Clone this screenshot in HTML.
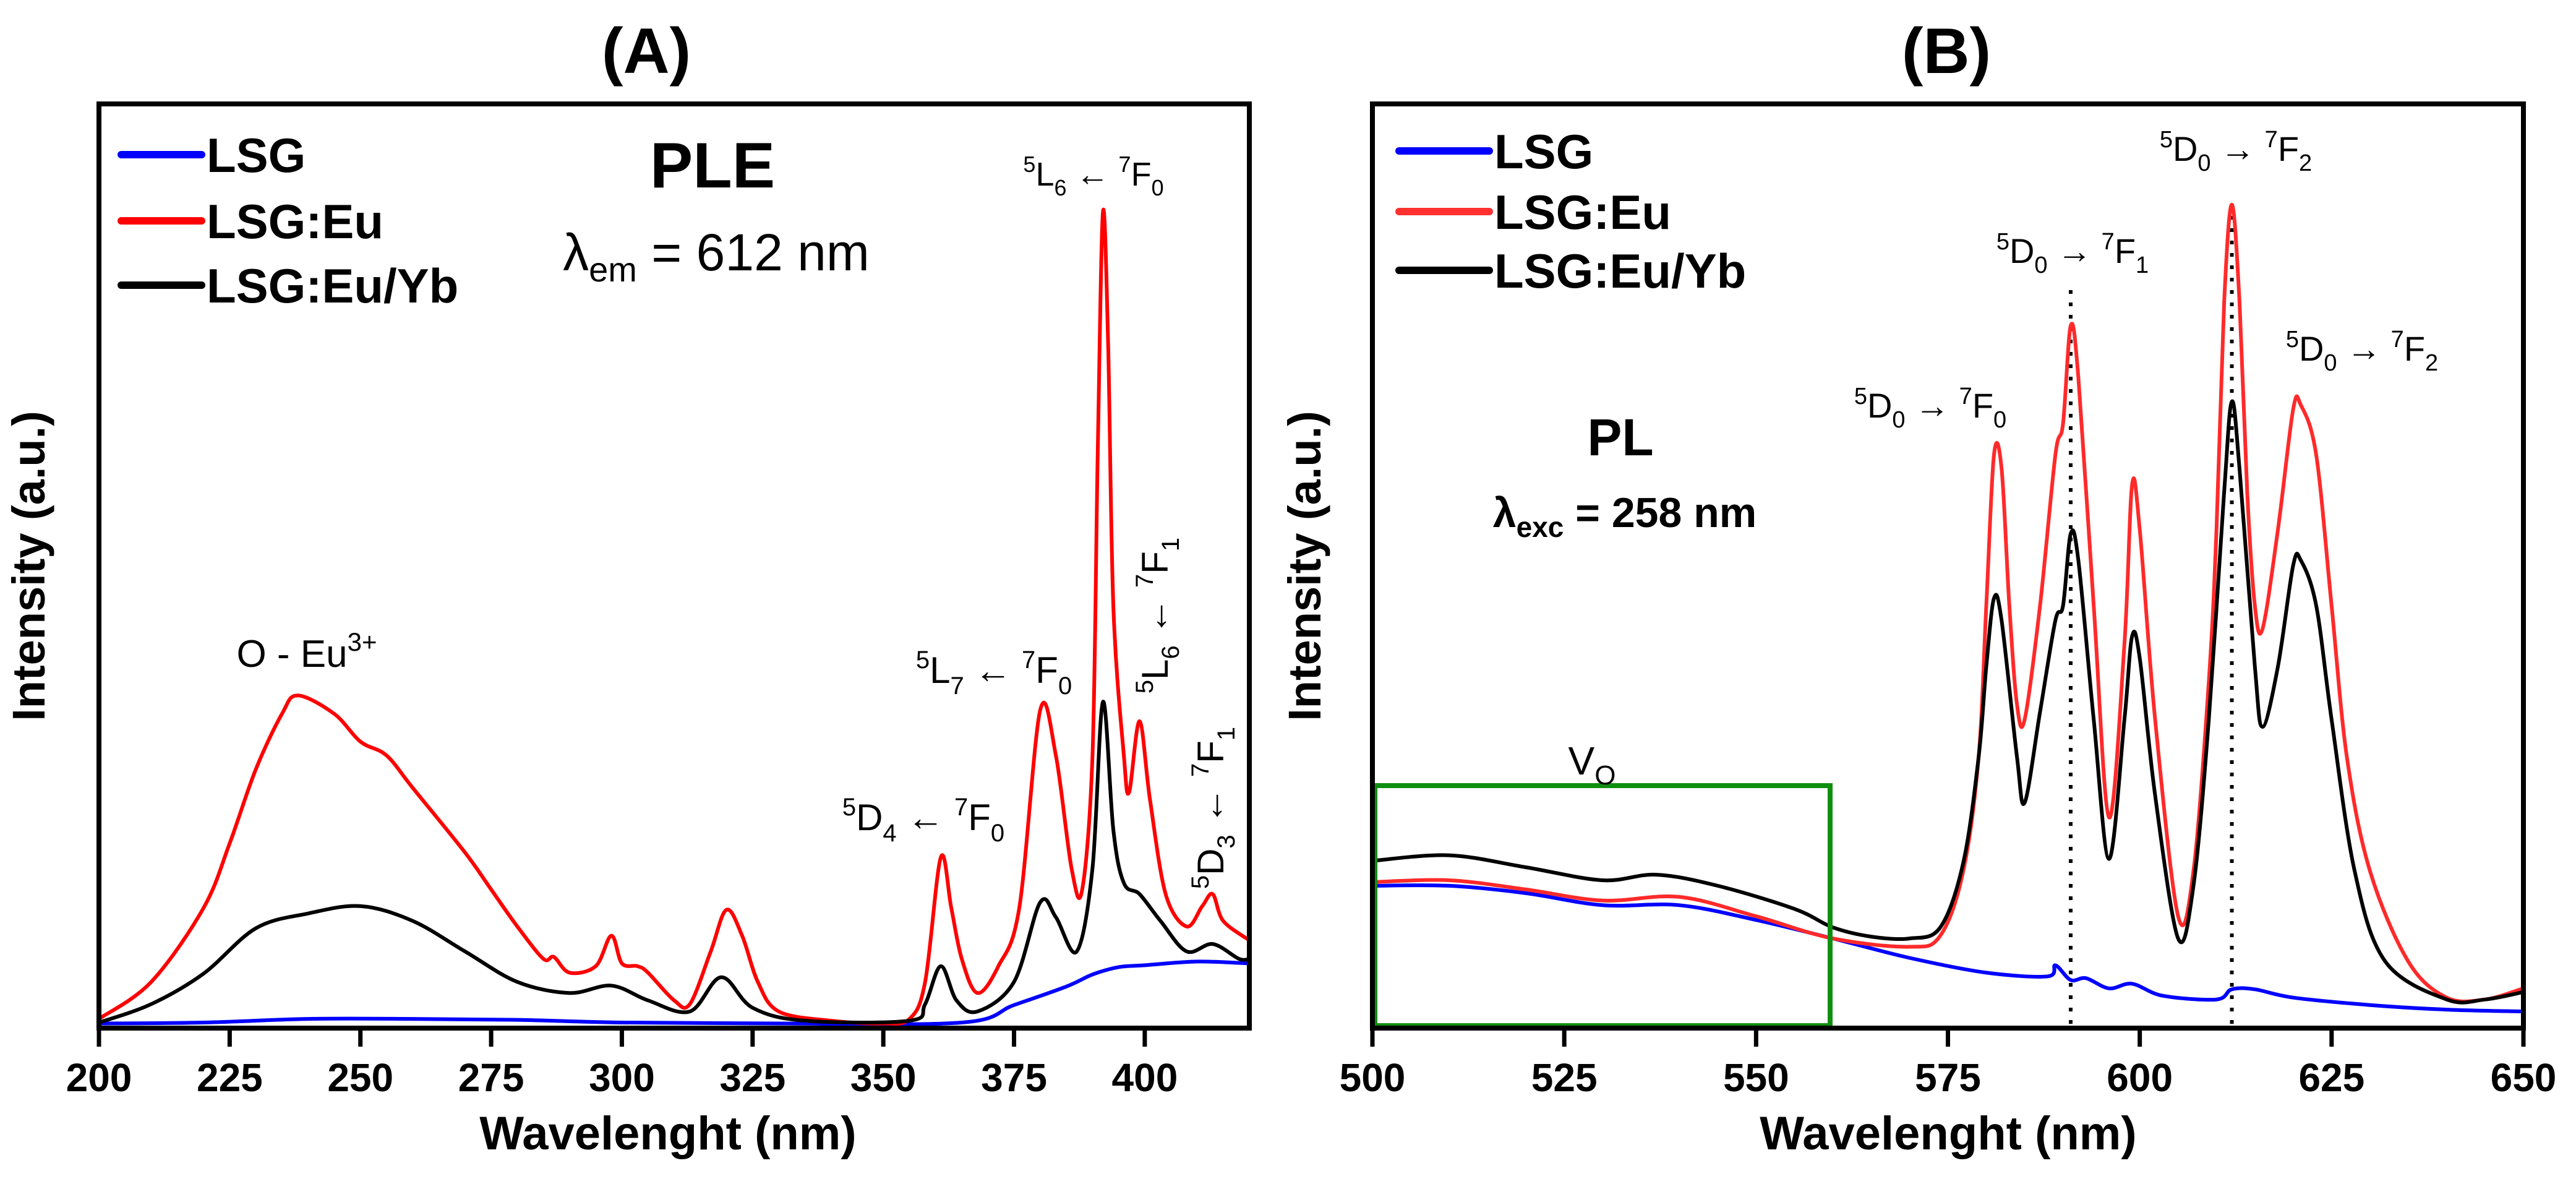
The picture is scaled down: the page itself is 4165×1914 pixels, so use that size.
<!DOCTYPE html>
<html><head><meta charset="utf-8">
<style>
html,body{margin:0;padding:0;background:#fff;}
svg{display:block;}
text{font-family:"Liberation Sans",sans-serif;}
</style></head>
<body>
<svg id="fig" width="4165" height="1914" viewBox="0 0 4165 1914" xmlns="http://www.w3.org/2000/svg">
  <g id="panelA"></g>
  <g id="panelB"></g>
</svg>
<script>
// ---- Panel A (PLE) data ----
const xTicksA = [200,225,250,275,300,325,350,375,400];
const redAx = [200,210,220,225,230,235,238,245,250,255,260,270,275,280,285,287,290,295,298,300,303,305,310,313,317,320,323,326,330,340,350,355,358,361,363,365,368,372,376,380,383,386,388,390,391,392,393,394,396,397,399,401,404,408,411,413,415,420];
const redAy = [1,5,13,20,28,34,36,34,31,29.5,26,19,15,11,7.5,7.7,6,6.7,10,7,6.7,6,3,2.6,8.3,12.8,10,5,1.8,0.8,0.5,1,5,18.5,13,7.5,3.8,6.7,13,34.4,29.5,17.3,14.9,29.5,62,88.3,74,45.5,29.5,25.5,33.2,24.7,14.5,11,13.2,14.5,11.6,9.5];
const blackAx = [200,210,220,230,240,250,260,270,280,290,298,305,313,319,325,335,355,358,361,364,368,375,380,383,387,390,392,394,396,399,403,408,413,418,420];
const blackAy = [0.6,2.6,5.9,10.8,12.4,13.2,11.6,8.3,5,3.8,4.6,3,1.8,5.5,2.2,0.8,0.8,2.6,6.7,3,1.8,5,13.6,12,8.3,17.3,35.3,21.4,15.7,14.5,11.6,8.3,9.1,7.5,7.5];
const blueAx = [200,220,240,260,280,300,330,365,375,385,390,395,400,410,420];
const blueAy = [0.5,0.6,1,1,0.9,0.6,0.5,0.6,2.5,4.5,5.8,6.6,6.8,7.2,7];

// ---- Panel B (PL) data ----
const xTicksB = [500,525,550,575,600,625,650];
const redBx = [500,510,520,530,540,550,560,570,574,577,579,580,581,582,583,584,585,587,589,590,591,592,594,596,598,599,600,602,605,607,609,610,611,612,613,614,615,616,618,620,621,623,625,627,630,635,640,645,650];
const redBy = [15.8,16,15,13.8,14.2,12.1,9.7,8.8,10,17,29.3,45.7,62,60.5,45.7,35,33.4,45.7,62,65.4,76,70.4,45.7,22.8,41.6,58.8,53.9,33.4,12.1,17,37.5,53.9,78.5,89.1,78.5,58,45.7,43.2,53.9,67,67.4,62,45.7,29.3,17,7.2,3.3,3.1,4.3];
const blackBx = [500,510,520,530,537,545,555,560,565,570,574,577,579,580,581,582,584,585,587,589,590,591,592,594,596,598,599,600,602,605,607,609,611,612,613,615,616,618,620,621,623,625,628,632,640,645,650];
const blackBy = [18.1,18.7,17.4,16,16.6,15.4,12.9,10.9,9.9,9.7,10.9,17.9,29.3,39.1,46.5,44.1,29.3,24.4,34.2,44.1,45.7,53.5,50.6,33.4,18.3,33.4,42.4,40,25.2,9.7,15.4,33.4,58,67.8,60.5,39.1,32.6,39.1,50.1,50.6,45.7,33.4,17,7.2,3.1,3.1,3.9];
const blueBx = [500,510,520,530,540,550,560,570,580,588,589,591,593,596,599,603,610,612,615,620,630,640,650];
const blueBy = [15.4,15.4,14.6,13.3,13.3,11.7,9.7,7.6,6,5.6,6.8,5.2,5.4,4.3,4.8,3.5,3.1,4.2,4.2,3.3,2.5,2,1.8];
const dottedB = [591,612];

const NS = "http://www.w3.org/2000/svg";
function mk(tag, attrs, parent){
  const e = document.createElementNS(NS, tag);
  for (const k in attrs) e.setAttribute(k, attrs[k]);
  parent.appendChild(e);
  return e;
}
function txt(parent, x, y, size, weight, content, anchor){
  const t = mk('text', {x:x, y:y, 'font-size':size, 'font-weight':weight, 'text-anchor':anchor||'middle', fill:'#000'}, parent);
  t.innerHTML = content;
  return t;
}

function panel(g, L, R, T, B, xmin, xmax, ticks, xTitleX, yTitleX, title, titleX){
  const sx = v => L + (v - xmin) / (xmax - xmin) * (R - L);
  const sy = v => B - v / 100 * (B - T);
  ticks.forEach(v => {
    const tk = mk('line', {x1:sx(v), x2:sx(v), y1:B, y2:B+30, stroke:'#000', 'stroke-width':7}, g);
    
    
    const lb = txt(g, sx(v), 1764, 64, 'bold', String(v));
    
    
  });
  const xt = txt(g, xTitleX, 1858, 76, 'bold', 'Wavelenght (nm)');
  
  
  const yt = txt(g, 0, 0, 74, 'bold', 'Intensity (a.u.)');
  yt.setAttribute('transform', `translate(${yTitleX},915) rotate(-90)`);
  
  
  const tt = txt(g, titleX, 118, 104, 'bold', title);
  
  
  return {sx, sy};
}

function series(g, xs, ys, sx, sy, color, name){
  const P = xs.map((v,i) => [sx(v), sy(ys[i])]);
  let d = 'M' + P[0][0].toFixed(1) + ',' + P[0][1].toFixed(1);
  for (let i = 0; i < P.length - 1; i++){
    const p0 = P[Math.max(0,i-1)], p1 = P[i], p2 = P[i+1], p3 = P[Math.min(P.length-1,i+2)];
    const k = 6;
    const c1 = [p1[0] + (p2[0]-p0[0])/k, p1[1] + (p2[1]-p0[1])/k];
    const c2 = [p2[0] - (p3[0]-p1[0])/k, p2[1] - (p3[1]-p1[1])/k];
    d += ` C${c1[0].toFixed(1)},${c1[1].toFixed(1)} ${c2[0].toFixed(1)},${c2[1].toFixed(1)} ${p2[0].toFixed(1)},${p2[1].toFixed(1)}`;
  }
  const p = mk('path', {d:d, fill:'none', stroke:color, 'stroke-width':6, 'stroke-linejoin':'round'}, g);
  
  
}

function legend(g, x1, x2, ys, colors, labels){
  labels.forEach((lab,i) => {
    const l = mk('line', {x1:x1, x2:x2, y1:ys[i], y2:ys[i], stroke:colors[i], 'stroke-width':12, 'stroke-linecap':'round'}, g);
    
    
    const t = txt(g, x2+8, ys[i]+28, 78, 'bold', lab, 'start');
    
    
  });
}

// Panel A
const gA = document.getElementById('panelA');
const A = panel(gA, 160, 2020, 168, 1662, 200, 420, xTicksA, 1080, 72, '(A)', 1045);
series(gA, blueAx, blueAy, A.sx, A.sy, '#0000ff', 'series-lsg-a');
series(gA, redAx, redAy, A.sx, A.sy, '#ff0000', 'series-lsg-eu-a');
series(gA, blackAx, blackAy, A.sx, A.sy, '#000000', 'series-lsg-eu-yb-a');
const boxA = mk('rect', {x:160, y:168, width:1860, height:1494, fill:'none', stroke:'#000', 'stroke-width':8}, gA);


legend(gA, 196, 326, [250, 357, 461], ['#0000ff','#ff0000','#000'], ['LSG','LSG:Eu','LSG:Eu/Yb']);
let t;
t = txt(gA, 1152, 303, 104, 'bold', 'PLE');  
t = txt(gA, 1158, 437, 84, 'normal', 'λ<tspan font-size="56" dy="18">em</tspan><tspan dy="-18"> = 612 nm</tspan>');  
t = txt(gA, 1768, 300, 54, 'normal', '<tspan font-size="36" dy="-22">5</tspan><tspan dy="22">L</tspan><tspan font-size="36" dy="16">6</tspan><tspan dy="-16"> ← </tspan><tspan font-size="36" dy="-22">7</tspan><tspan dy="22">F</tspan><tspan font-size="36" dy="16">0</tspan>');  
t = txt(gA, 496, 1078, 62, 'normal', 'O - Eu<tspan font-size="42" dy="-26">3+</tspan>');  
t = txt(gA, 1607, 1104, 60, 'normal', '<tspan font-size="40" dy="-24">5</tspan><tspan dy="24">L</tspan><tspan font-size="40" dy="18">7</tspan><tspan dy="-18"> ← </tspan><tspan font-size="40" dy="-24">7</tspan><tspan dy="24">F</tspan><tspan font-size="40" dy="18">0</tspan>');  
t = txt(gA, 1493, 1342, 60, 'normal', '<tspan font-size="40" dy="-24">5</tspan><tspan dy="24">D</tspan><tspan font-size="40" dy="18">4</tspan><tspan dy="-18"> ← </tspan><tspan font-size="40" dy="-24">7</tspan><tspan dy="24">F</tspan><tspan font-size="40" dy="18">0</tspan>');  
t = txt(gA, 0, 0, 60, 'normal', '<tspan font-size="40" dy="-24">5</tspan><tspan dy="24">L</tspan><tspan font-size="40" dy="18">6</tspan><tspan dy="-18"> ← </tspan><tspan font-size="40" dy="-24">7</tspan><tspan dy="24">F</tspan><tspan font-size="40" dy="18">1</tspan>');
t.setAttribute('transform','translate(1888,995) rotate(-90)');  
t = txt(gA, 0, 0, 60, 'normal', '<tspan font-size="40" dy="-24">5</tspan><tspan dy="24">D</tspan><tspan font-size="40" dy="18">3</tspan><tspan dy="-18"> ← </tspan><tspan font-size="40" dy="-24">7</tspan><tspan dy="24">F</tspan><tspan font-size="40" dy="18">1</tspan>');
t.setAttribute('transform','translate(1978,1306) rotate(-90)');  

// Panel B
const gB = document.getElementById('panelB');
const Bp = panel(gB, 2219, 4080, 168, 1662, 500, 650, xTicksB, 3150, 2135, '(B)', 3147);
dottedB.forEach(v => {
  const top = v === 612 ? 323 : 457;
  const dl = mk('line', {x1:Bp.sx(v), x2:Bp.sx(v), y1:1655, y2:top, stroke:'#000', 'stroke-width':6, 'stroke-dasharray':'6 14'}, gB);
  
  
});
series(gB, blueBx, blueBy, Bp.sx, Bp.sy, '#0000ff', 'series-lsg-b');
series(gB, redBx, redBy, Bp.sx, Bp.sy, '#ff2a2a', 'series-lsg-eu-b');
series(gB, blackBx, blackBy, Bp.sx, Bp.sy, '#000000', 'series-lsg-eu-yb-b');
const gr = mk('rect', {x:2223, y:1270, width:736, height:388, fill:'none', stroke:'#0f8f0f', 'stroke-width':8}, gB);


const boxB = mk('rect', {x:2219, y:168, width:1861, height:1494, fill:'none', stroke:'#000', 'stroke-width':8}, gB);


legend(gB, 2262, 2408, [244, 342, 437], ['#0000ff','#ff3030','#000'], ['LSG','LSG:Eu','LSG:Eu/Yb']);
t = txt(gB, 2574, 1252, 64, 'normal', 'V<tspan font-size="44" dy="16">O</tspan>');  
t = txt(gB, 2620, 736, 84, 'bold', 'PL');  
t = txt(gB, 2627, 852, 68, 'bold', 'λ<tspan font-size="46" dy="16">exc</tspan><tspan dy="-16"> = 258 nm</tspan>');  
function dlabel(x, y, lo, name){
  const s = txt(gB, x, y, 56, 'normal', '<tspan font-size="38" dy="-22">5</tspan><tspan dy="22">D</tspan><tspan font-size="38" dy="16">0</tspan><tspan dy="-16"> → </tspan><tspan font-size="38" dy="-22">7</tspan><tspan dy="22">F</tspan><tspan font-size="38" dy="16">' + lo + '</tspan>');
  
  
}
dlabel(3121, 675, '0', 'annotation-5d0-7f0');
dlabel(3351, 425, '1', 'annotation-5d0-7f1');
dlabel(3615, 260, '2', 'annotation-5d0-7f2-top');
dlabel(3819, 583, '2', 'annotation-5d0-7f2-right');
</script>
</body></html>
